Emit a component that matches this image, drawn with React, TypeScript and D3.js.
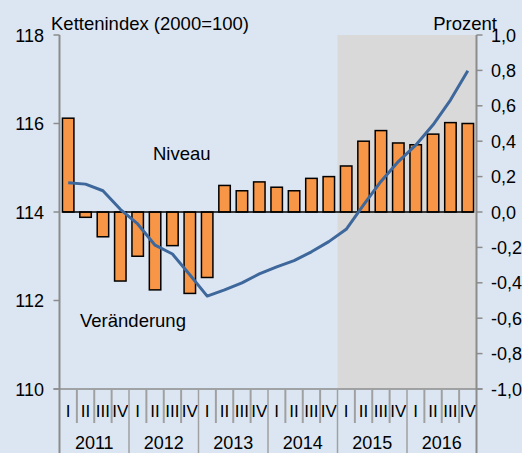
import React from "react";
import * as d3 from "d3";

// quarters 2011 Q1 .. 2016 Q4
const years = ["2011", "2012", "2013", "2014", "2015", "2016"];
const quarterNames = ["I", "II", "III", "IV"];

// Veränderung gegenüber Vorquartal, Prozent (right axis)
const change = [
  0.53, -0.03, -0.14, -0.39,
  -0.25, -0.44, -0.19, -0.46,
  -0.37, 0.15, 0.12, 0.17,
  0.14, 0.12, 0.19, 0.2,
  0.26, 0.4, 0.46, 0.39,
  0.38, 0.44, 0.505, 0.5,
];

// Niveau, Kettenindex 2000=100 (left axis)
const level = [
  114.66, 114.63, 114.48, 114.06,
  113.73, 113.25, 113.05, 112.58,
  112.1, 112.24, 112.4, 112.6,
  112.76, 112.9, 113.1, 113.33,
  113.61, 114.16, 114.69, 115.14,
  115.51, 115.97, 116.53, 117.19,
];

const leftTicks = [110, 112, 114, 116, 118];
const rightTicks = [-1, -0.8, -0.6, -0.4, -0.2, 0, 0.2, 0.4, 0.6, 0.8, 1];
const forecastFrom = 16; // shaded from 2015 Q1

const W = 522;
const H = 453;
const x0 = 59.5;
const x1 = 476.5;
const yTop = 35;
const yBot = 389;

const font = "Arial, 'Liberation Sans', sans-serif";

export default function App() {
  const quarters = years.flatMap((y) => quarterNames.map((q) => `${y}-${q}`));

  const x = d3.scaleBand<string>().domain(quarters).range([x0, x1]).paddingInner(0.34).paddingOuter(0.17);
  const step = x.step();
  const slotLeft = (i: number) => x0 + i * step;

  const yL = d3.scaleLinear().domain([110, 118]).range([yBot, yTop]);
  const yR = d3.scaleLinear().domain([-1, 1]).range([yBot, yTop]);

  const line = d3
    .line<number>()
    .x((_, i) => (x(quarters[i]) as number) + x.bandwidth() / 2)
    .y((d) => yL(d))
    .curve(d3.curveLinear);

  const fmt = (v: number) => v.toFixed(1).replace(".", ",");
  const axisGray = "#8c8c8c";

  return (
    <svg width={W} height={H} style={{ position: "absolute", left: 0, top: 0, fontFamily: font }}>
      <rect x={0} y={0} width={W} height={H} fill="#dce6f2" />
      <rect x={slotLeft(forecastFrom)} y={yTop} width={x1 - slotLeft(forecastFrom)} height={yBot - yTop} fill="#d9d9d9" />

      {/* bars */}
      {change.map((v, i) => (
        <rect
          key={i}
          x={x(quarters[i])}
          y={yR(Math.max(0, v))}
          width={x.bandwidth()}
          height={Math.abs(yR(v) - yR(0))}
          fill="#f79646"
          stroke="#000"
          strokeWidth={1.5}
        />
      ))}
      <line
        x1={x(quarters[0]) as number}
        x2={(x(quarters[23]) as number) + x.bandwidth()}
        y1={yR(0)}
        y2={yR(0)}
        stroke="#000"
        strokeWidth={1.5}
      />

      <path d={line(level) || ""} fill="none" stroke="#3e679b" strokeWidth={3} strokeLinejoin="round" />

      {/* left axis */}
      <line x1={x0} x2={x0} y1={yTop} y2={H} stroke={axisGray} strokeWidth={2} />
      {leftTicks.map((t) => (
        <g key={t}>
          <line x1={x0 - 6} x2={x0} y1={yL(t)} y2={yL(t)} stroke={axisGray} strokeWidth={1.5} />
          <text x={44} y={yL(t) + 6.5} textAnchor="end" fontSize={18}>
            {t}
          </text>
        </g>
      ))}

      {/* right axis */}
      <line x1={x1} x2={x1} y1={yTop} y2={H} stroke={axisGray} strokeWidth={2} />
      {rightTicks.map((t) => (
        <g key={t}>
          <line x1={x1} x2={x1 + 6} y1={yR(t)} y2={yR(t)} stroke={axisGray} strokeWidth={1.5} />
          <text x={491} y={yR(t) + 6.5} fontSize={18}>
            {fmt(t)}
          </text>
        </g>
      ))}

      {/* category axis */}
      <line x1={x0 - 6} x2={x1 + 6} y1={yBot} y2={yBot} stroke={axisGray} strokeWidth={1.5} />
      {quarters.map((q, i) => (
        <g key={q}>
          {i > 0 && (
            <line
              x1={slotLeft(i)}
              x2={slotLeft(i)}
              y1={yBot}
              y2={i % 4 === 0 ? H : 423}
              stroke="#a0a0a0"
              strokeWidth={i % 4 === 0 ? 1.5 : 2}
            />
          )}
          <text x={slotLeft(i) + step / 2} y={417} textAnchor="middle" fontSize={17}>
            {quarterNames[i % 4]}
          </text>
        </g>
      ))}
      {years.map((y, j) => (
        <text key={y} x={slotLeft(j * 4) + step * 2} y={449} textAnchor="middle" fontSize={18}>
          {y}
        </text>
      ))}

      {/* titles */}
      <text x={51} y={30} fontSize={18.5}>
        Kettenindex (2000=100)
      </text>
      <text x={497} y={30} textAnchor="end" fontSize={18.5}>
        Prozent
      </text>
      <text x={153} y={160} fontSize={18.5}>
        Niveau
      </text>
      <text x={80} y={327} fontSize={18.5}>
        Veränderung
      </text>
    </svg>
  );
}
